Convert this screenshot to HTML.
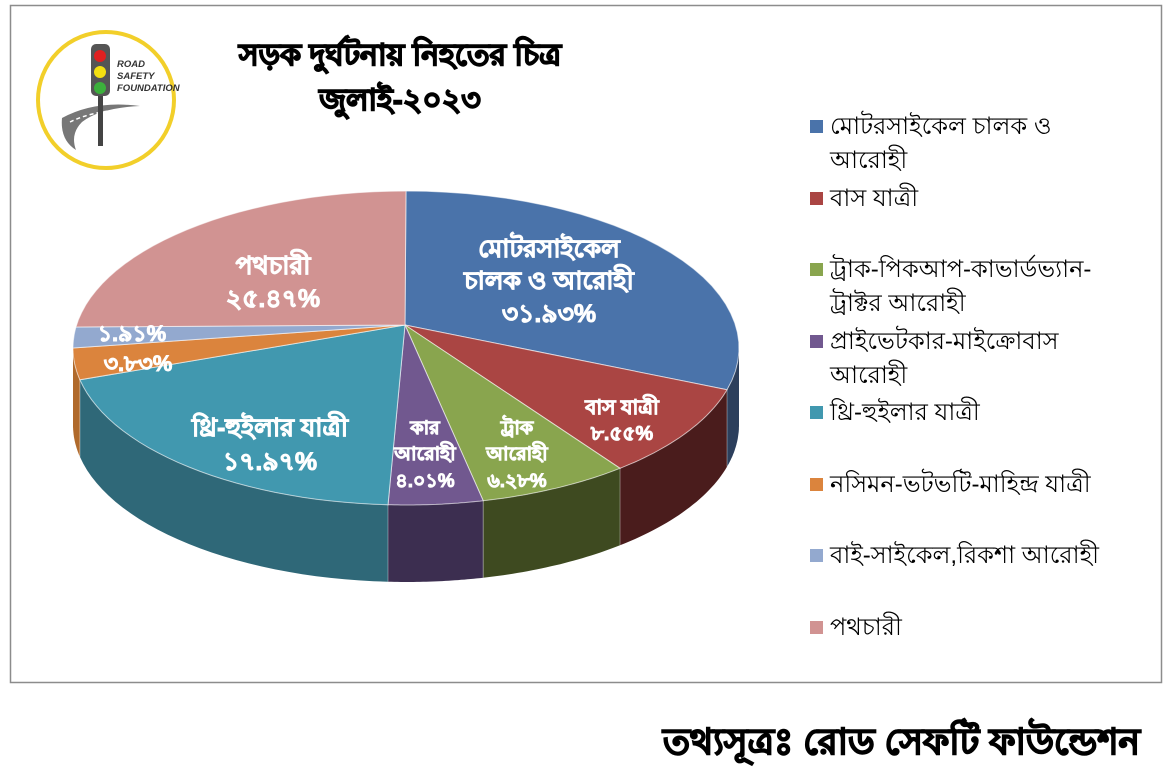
<!DOCTYPE html>
<html><head><meta charset="utf-8">
<style>
html,body{margin:0;padding:0;background:#fff;}
body{width:1175px;height:768px;position:relative;overflow:hidden;font-family:"Liberation Sans",sans-serif;}
</style></head>
<body>
<svg id="s" width="1175" height="768" xmlns="http://www.w3.org/2000/svg" style="position:absolute;left:0;top:0">
<rect x="10.5" y="5.5" width="1151" height="677" fill="#fff" stroke="#8c8c8c" stroke-width="1.5"/>
<!-- logo -->
<circle cx="106" cy="100" r="68" fill="#fff" stroke="#f2cf2a" stroke-width="4"/>
<path d="M62 118 Q95 100 140 106 Q100 108 82 122 Q70 134 76 150 Q60 140 62 118Z" fill="#777"/>
<path d="M70 122 Q90 112 120 110" stroke="#fff" stroke-width="1.5" stroke-dasharray="4 3" fill="none"/>
<rect x="98" y="90" width="5" height="56" fill="#444"/>
<rect x="91" y="44" width="19" height="52" rx="5" fill="#555"/>
<circle cx="100" cy="56" r="6" fill="#e02020"/>
<circle cx="100" cy="72" r="6" fill="#f4e010"/>
<circle cx="100" cy="88" r="6" fill="#3cb03c"/>
<text x="117" y="67" font-size="9.5" font-weight="bold" font-style="italic" fill="#333">ROAD</text>
<text x="117" y="79" font-size="9.5" font-weight="bold" font-style="italic" fill="#333">SAFETY</text>
<text x="117" y="91" font-size="9.5" font-weight="bold" font-style="italic" fill="#333">FOUNDATION</text>
<g id="pie"></g>
<g fill="#fff" stroke="#fff" stroke-width="0.9" font-weight="bold" text-anchor="middle" font-family="'Liberation Sans',sans-serif">
<text x="549" y="257" font-size="25">মোটরসাইকেল</text>
<text x="549" y="289" font-size="25">চালক ও আরোহী</text>
<text x="549" y="322" font-size="25">৩১.৯৩%</text>
<text x="273" y="274" font-size="25">পথচারী</text>
<text x="273" y="307" font-size="25">২৫.৪৭%</text>
<text x="132" y="341" font-size="22">১.৯১%</text>
<text x="138" y="371" font-size="22">৩.৮৩%</text>
<text x="270" y="436" font-size="25">থ্রি-হুইলার যাত্রী</text>
<text x="270" y="470" font-size="25">১৭.৯৭%</text>
<text x="425" y="434" font-size="19">কার</text>
<text x="425" y="460" font-size="19">আরোহী</text>
<text x="425" y="487" font-size="19">৪.০১%</text>
<text x="517" y="434" font-size="19">ট্রাক</text>
<text x="517" y="460" font-size="19">আরোহী</text>
<text x="517" y="487" font-size="19">৬.২৮%</text>
<text x="622" y="414" font-size="20">বাস যাত্রী</text>
<text x="622" y="440" font-size="20">৮.৫৫%</text>
</g>
<g font-weight="bold" text-anchor="middle" fill="#000" stroke="#000" stroke-width="1.4">
<text x="400" y="65" font-size="30">সড়ক দুর্ঘটনায় নিহতের চিত্র</text>
<text x="400" y="110" font-size="30">জুলাই-২০২৩</text>
</g>
<g font-size="24" fill="#000">
<rect x="810" y="120" width="13" height="13" fill="#4a73aa"/><text x="830" y="134">মোটরসাইকেল চালক ও</text><text x="830" y="168">আরোহী</text>
<rect x="810" y="192" width="13" height="13" fill="#aa4543"/><text x="830" y="206">বাস যাত্রী</text>
<rect x="810" y="263" width="13" height="13" fill="#89a54e"/><text x="830" y="277">ট্রাক-পিকআপ-কাভার্ডভ্যান-</text><text x="830" y="311">ট্রাক্টর আরোহী</text>
<rect x="810" y="335" width="13" height="13" fill="#71588f"/><text x="830" y="349">প্রাইভেটকার-মাইক্রোবাস</text><text x="830" y="383">আরোহী</text>
<rect x="810" y="406" width="13" height="13" fill="#4198af"/><text x="830" y="420">থ্রি-হুইলার যাত্রী</text>
<rect x="810" y="478" width="13" height="13" fill="#db843d"/><text x="830" y="492">নসিমন-ভটভটি-মাহিন্দ্র যাত্রী</text>
<rect x="810" y="549" width="13" height="13" fill="#93a9cf"/><text x="830" y="563">বাই-সাইকেল,রিকশা আরোহী</text>
<rect x="810" y="621" width="13" height="13" fill="#d19392"/><text x="830" y="635">পথচারী</text>
</g>
<text x="1140" y="754" font-size="36" font-weight="bold" text-anchor="end" stroke="#000" stroke-width="1.4">তথ্যসূত্রঃ রোড সেফটি ফাউন্ডেশন</text>
</svg>
<script>
(function(){
var cx=406,cy=348,rx=333,ry=157,D=77,vx=405,vy=325;
var sl=[[0,105.4,'#4a73aa','#2c3f5c'],[105.4,140,'#aa4543','#4a1c1c'],[140,166.6,'#89a54e','#3e4a20'],[166.6,183.1,'#71588f','#3c2e50'],[183.1,258.3,'#4198af','#2f6878'],[258.3,270,'#db843d','#b06a2c'],[270,277.7,'#93a9cf','#6f82a4'],[277.7,360,'#d19392','#a06e6e']];
function P(t,d){var r=t*Math.PI/180;return [cx+rx*Math.sin(r),cy-ry*Math.cos(r)+(d||0)];}
function arc(a,b,d){var s='',n=30;for(var i=0;i<=n;i++){var p=P(a+(b-a)*i/n,d);s+=(i?'L':'')+p[0].toFixed(1)+' '+p[1].toFixed(1)+' ';}return s;}
function arcRev(a,b,d){var s='',n=30;for(var i=n;i>=0;i--){var p=P(a+(b-a)*i/n,d);s+='L'+p[0].toFixed(1)+' '+p[1].toFixed(1)+' ';}return s;}
var g=document.getElementById('pie'),h='';
sl.forEach(function(x){var a=Math.max(x[0],90),b=Math.min(x[1],270);if(b>a){h+='<path d="M'+arc(a,b,0)+arcRev(a,b,D)+'Z" fill="'+x[3]+'"/>';}});
sl.forEach(function(x){var t=x[1];if(t>90&&t<270){var p=P(t,0);h+='<line x1="'+p[0]+'" y1="'+p[1]+'" x2="'+p[0]+'" y2="'+(p[1]+D)+'" stroke="rgba(255,255,255,0.35)" stroke-width="1"/>';}});
sl.forEach(function(x){h+='<path d="M'+vx+' '+vy+' L'+arc(x[0],x[1],0)+'Z" fill="'+x[2]+'" stroke="#fff" stroke-width="1" stroke-opacity="0.6"/>';});
g.innerHTML=h;
})();
</script>
</body></html>
